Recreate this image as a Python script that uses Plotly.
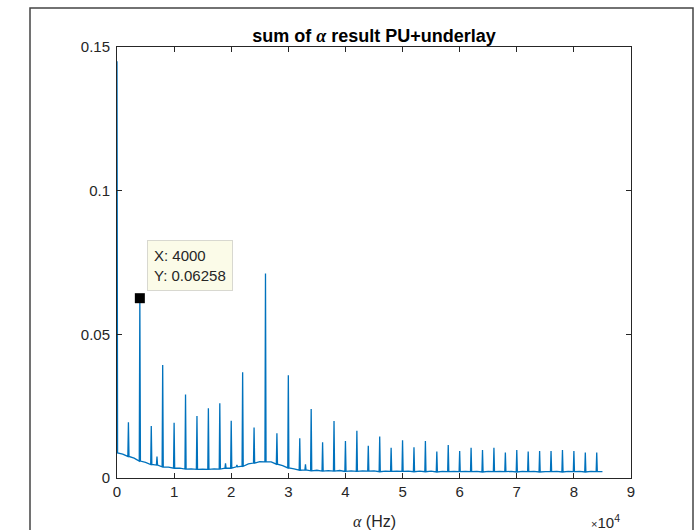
import plotly.graph_objects as go

# ---- data ----
# baseline (noise floor) sampled every 1000 Hz, 0 .. 85000 Hz
base_freq = list(range(0, 86000, 1000))
base_vals = [
    0.0087, 0.0083, 0.0075, 0.0069, 0.0059, 0.0054, 0.0047, 0.0045, 0.0039, 0.0038,
    0.0034, 0.0034, 0.0031, 0.0032, 0.0030, 0.0031, 0.0030, 0.0032, 0.0031, 0.0034,
    0.0034, 0.0039, 0.0041, 0.0049, 0.0052, 0.0057, 0.0056, 0.0056, 0.0048, 0.0043,
    0.0035, 0.0032, 0.0027, 0.0028, 0.0025, 0.0027, 0.0024, 0.0026, 0.0024, 0.0026,
    0.0023, 0.0025, 0.0023, 0.0025, 0.0024, 0.0025, 0.0022, 0.0024, 0.0023, 0.0024,
    0.0023, 0.0024, 0.0022, 0.0024, 0.0022, 0.0024, 0.0021, 0.0023, 0.0022, 0.0023,
    0.0022, 0.0023, 0.0022, 0.0023, 0.0021, 0.0023, 0.0022, 0.0023, 0.0022, 0.0023,
    0.0021, 0.0023, 0.0022, 0.0023, 0.0021, 0.0022, 0.0022, 0.0023, 0.0021, 0.0023,
    0.0022, 0.0023, 0.0021, 0.0023, 0.0022, 0.0022,
]

# spectral lines (cyclic frequencies) and their peak values
peak_freq = [
    0, 2000, 4000, 6000, 7000, 8000, 10000, 12000, 14000, 16000, 18000, 19000,
    20000, 21000, 22000, 24000, 26000, 28000, 30000, 32000, 33000, 34000, 36000,
    38000, 40000, 42000, 44000, 46000, 48000, 50000, 52000, 54000, 56000, 58000,
    60000, 62000, 64000, 66000, 68000, 70000, 72000, 74000, 76000, 78000, 80000,
    82000, 84000,
]
peak_vals = [
    0.1450, 0.0194, 0.06258, 0.0181, 0.0075, 0.0393, 0.0192, 0.0291, 0.0216, 0.0243,
    0.0260, 0.0051, 0.0199, 0.0045, 0.0368, 0.0176, 0.0712, 0.0156, 0.0358, 0.0138,
    0.0048, 0.0240, 0.0124, 0.0198, 0.0129, 0.0164, 0.0112, 0.0144, 0.0105, 0.0131,
    0.0107, 0.0129, 0.0092, 0.0115, 0.0094, 0.0105, 0.0097, 0.0105, 0.0089, 0.0097,
    0.0092, 0.0094, 0.0094, 0.0097, 0.0094, 0.0089, 0.0089,
]

tip_x = 4000
tip_y = 0.06258

x_tick_vals = [0, 10000, 20000, 30000, 40000, 50000, 60000, 70000, 80000, 90000]
x_tick_text = ["0", "1", "2", "3", "4", "5", "6", "7", "8", "9"]
y_tick_vals = [0, 0.05, 0.1, 0.15]
y_tick_text = ["0", "0.05", "0.1", "0.15"]

# ---- build the line: baseline with narrow spikes ----
peaks = dict(zip(peak_freq, peak_vals))
xs, ys = [], []
for f, b in zip(base_freq, base_vals):
    if f in peaks:
        if f - 100 >= 0:
            xs.append(f - 100); ys.append(b)
        xs.append(f); ys.append(peaks[f])
        xs.append(f + 100); ys.append(b)
    else:
        xs.append(f); ys.append(b)

FONT = "Liberation Sans, Arial, Helvetica, sans-serif"
AX = "#262626"

fig = go.Figure()
fig.add_trace(go.Scatter(x=xs, y=ys, mode="lines",
                         line=dict(color="#0072BD", width=1.3), hoverinfo="skip",
                         showlegend=False))
fig.add_trace(go.Scatter(x=[tip_x], y=[tip_y], mode="markers",
                         marker=dict(symbol="square", size=10, color="black"),
                         showlegend=False))

fig.update_layout(
    width=695, height=530,
    margin=dict(l=117, r=64, t=47, b=52),
    paper_bgcolor="white", plot_bgcolor="white",
    font=dict(family=FONT, color=AX),
    title=dict(
        text="<b>sum of <span style='font-family:Liberation Serif, Times New Roman, serif'><i>α</i></span> result PU+underlay</b>",
        x=0.5, xref="paper", xanchor="center",
        y=1 - 36 / 530, yref="container", yanchor="middle",
        font=dict(size=18, color="black", family=FONT),
    ),
    xaxis=dict(
        range=[0, 90000], tickvals=x_tick_vals, ticktext=x_tick_text,
        ticks="inside", ticklen=5, tickcolor=AX, mirror="ticks",
        showline=True, linecolor=AX, linewidth=1, showgrid=False, zeroline=False,
        tickfont=dict(size=15, color=AX, family=FONT),
    ),
    yaxis=dict(
        range=[0, 0.15], tickvals=y_tick_vals, ticktext=y_tick_text,
        ticks="inside", ticklen=5, tickcolor=AX, mirror="ticks",
        showline=True, linecolor=AX, linewidth=1, showgrid=False, zeroline=False,
        tickfont=dict(size=15, color=AX, family=FONT), ticklabelstandoff=3,
    ),
)

# datatip
fig.add_annotation(
    x=tip_x, y=tip_y, xref="x", yref="y",
    text="X: 4000<br>Y: 0.06258", showarrow=False, align="left",
    xanchor="left", yanchor="bottom", xshift=7, yshift=7,
    bgcolor="#FBFBE8", bordercolor="#D8D8D0", borderwidth=1, borderpad=6,
    font=dict(size=15, color=AX, family=FONT),
)

# x-axis label
fig.add_annotation(
    x=0.5, y=0, xref="paper", yref="paper", yshift=-43,
    text="<span style='font-family:Liberation Serif, Times New Roman, serif'><i>α</i></span> (Hz)",
    showarrow=False, xanchor="center", yanchor="middle",
    font=dict(size=16, color=AX, family=FONT),
)
# exponent
fig.add_annotation(
    x=1, y=0, xref="paper", yref="paper", xshift=-9, yshift=-43,
    text="<span style='font-size:11px'>×</span>10<sup>4</sup>",
    showarrow=False, xanchor="right", yanchor="middle",
    font=dict(size=15, color=AX, family=FONT),
)

# outer window frame
fig.add_shape(type="rect", xref="paper", yref="paper",
              x0=(30 - 117) / 514, x1=(693 - 117) / 514,
              y0=(478 - 545) / 431, y1=(478 - 8) / 431,
              line=dict(color="#444444", width=1.5), fillcolor="rgba(0,0,0,0)",
              layer="below")

fig.write_html("out.html")
